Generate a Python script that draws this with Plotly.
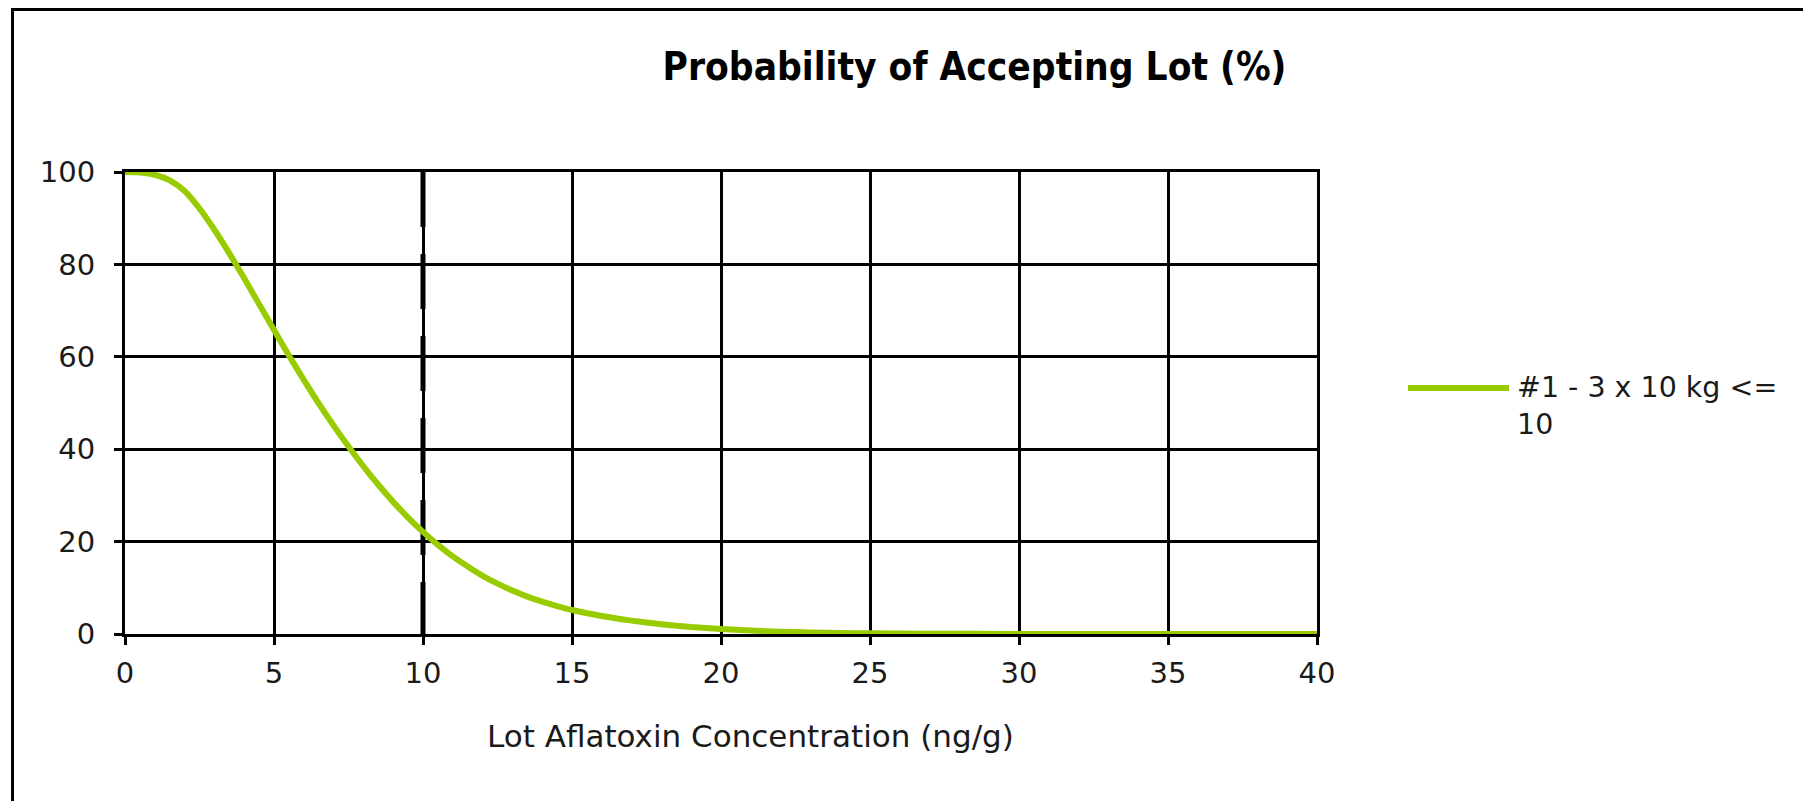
import plotly.graph_objects as go

# ---- data ----
concentration = [0, 0.5, 1, 1.5, 2, 2.5, 3, 3.5, 4, 4.5, 5, 5.5, 6, 6.5, 7, 7.5, 8, 8.5, 9, 9.5,
                 10, 10.5, 11, 11.5, 12, 12.5, 13, 13.5, 14, 14.5, 15, 16, 17, 18, 19, 20,
                 21, 22, 23, 24, 25, 27, 30, 35, 40]
prob_accept = [100, 99.9, 99.4, 98.2, 95.9, 92.1, 87.5, 82.4, 77.0, 71.4, 65.8, 60.3, 55.0,
               49.9, 45.1, 40.6, 36.3, 32.3, 28.6, 25.2, 22.1, 19.3, 16.8, 14.6, 12.6, 10.9,
               9.4, 8.1, 7.0, 6.05, 5.2, 3.9, 2.9, 2.1, 1.5, 1.1, 0.75, 0.5, 0.33, 0.22, 0.14,
               0.06, 0.02, 0, 0]
series_name = "#1 - 3 x 10 kg <= 10"
limit_x = 10
x_ticks = [0, 5, 10, 15, 20, 25, 30, 35, 40]
y_ticks = [0, 20, 40, 60, 80, 100]
title_text = "Probability of Accepting Lot (%)"
x_title = "Lot Aflatoxin Concentration (ng/g)"

GREEN = "#99CC00"
FONT = "DejaVu Sans, Verdana, sans-serif"
TXT = "#1a1a1a"
OFF = 8  # page body margin
W, H = 1811 - 2 * OFF, 809 - 2 * OFF
L, T = 125 - OFF, 172 - OFF
R = W - (1317 - OFF)
B = H - (634 - OFF)
PW = W - L - R
PH = H - T - B


def px_x(p):  # page pixel -> paper x
    return (p - OFF - L) / PW


def px_y(p):  # page pixel -> paper y
    return (H - B - (p - OFF)) / PH


fig = go.Figure()
fig.add_trace(go.Scatter(
    x=[limit_x, limit_x], y=[100, 0], mode="lines",
    line=dict(color="black", width=5, dash="55px,27px"),
    showlegend=False, hoverinfo="skip"))
fig.add_trace(go.Scatter(
    x=concentration, y=prob_accept, mode="lines", name=series_name,
    line=dict(color=GREEN, width=6, shape="spline", smoothing=0.6),
    showlegend=False))

axis_common = dict(
    showgrid=True, gridcolor="black", gridwidth=2.5,
    showline=True, linecolor="black", linewidth=3, mirror=True,
    ticks="outside", ticklen=8, tickwidth=2.5, tickcolor="black",
    zeroline=False,
    tickfont=dict(family=FONT, size=29, color=TXT),
)
fig.update_xaxes(range=[0, 40], tickvals=x_ticks, ticklabelstandoff=3, **axis_common)
fig.update_yaxes(range=[0, 100], tickvals=y_ticks, ticklabelstandoff=13, **axis_common)

# legend drawn manually (long line sample)
fig.add_shape(type="line", xref="paper", yref="paper",
              x0=px_x(1408), x1=px_x(1509), y0=px_y(388), y1=px_y(388),
              line=dict(color=GREEN, width=6))
legend_lines = series_name.rsplit(" ", 1)
fig.add_annotation(xref="paper", yref="paper", x=px_x(1515), y=px_y(406),
                   xanchor="left", yanchor="middle", align="left", showarrow=False,
                   text=legend_lines[0].replace("<", "&lt;") + "<br>" + legend_lines[1],
                   font=dict(family=FONT, size=28.5, color=TXT))

# axis title
fig.add_annotation(xref="paper", yref="paper", x=px_x(750), y=px_y(736),
                   xanchor="center", yanchor="middle", showarrow=False,
                   text=x_title, font=dict(family=FONT, size=31, color=TXT))

# chart frame (top and left edges visible)
fig.add_shape(type="line", xref="paper", yref="paper",
              x0=px_x(12), x1=px_x(1811), y0=px_y(9.5), y1=px_y(9.5),
              line=dict(color="black", width=3))
fig.add_shape(type="line", xref="paper", yref="paper",
              x0=px_x(12.5), x1=px_x(12.5), y0=px_y(8), y1=px_y(809),
              line=dict(color="black", width=3))

fig.update_layout(
    width=W, height=H,
    margin=dict(l=L, r=R, t=T, b=B),
    paper_bgcolor="white", plot_bgcolor="white",
    title=dict(text="<b>" + title_text + "</b>", x=(974.5 - OFF) / W, xanchor="center",
               y=1 - (67 - OFF) / H, yanchor="middle", yref="container",
               font=dict(family="DejaVu Sans Condensed, DejaVu Sans, sans-serif", size=38.5, color="black")),
    showlegend=False,
)

fig.write_html("out.html")
